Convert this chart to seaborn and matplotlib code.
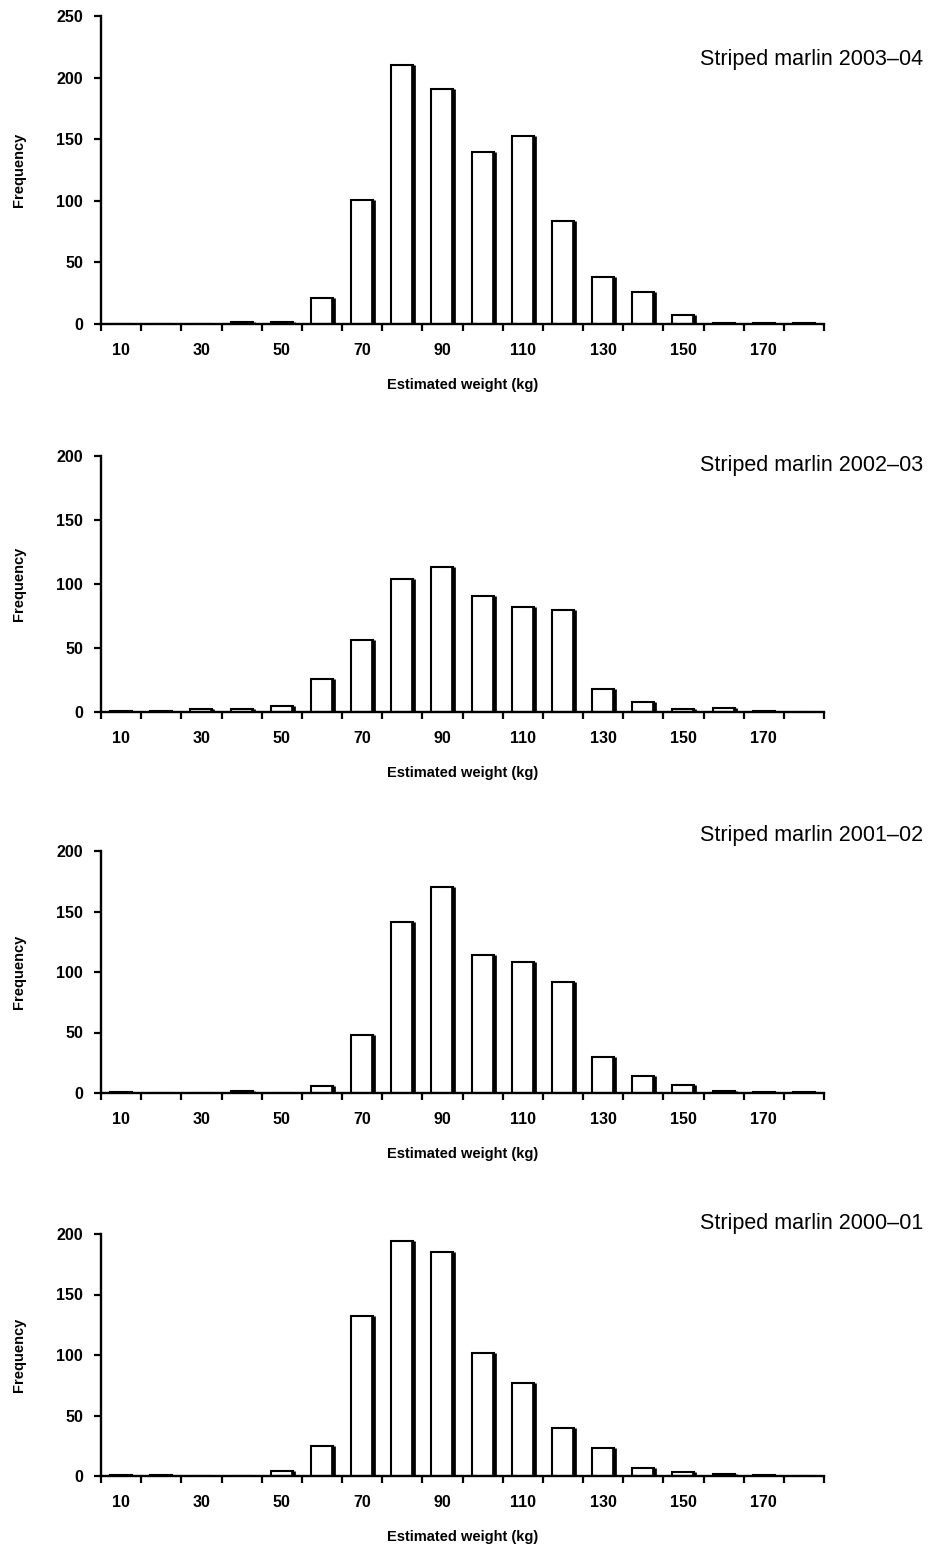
import matplotlib
matplotlib.use("Agg")
import matplotlib.pyplot as plt
import seaborn as sns

# weight classes (kg)
weights = [10, 20, 30, 40, 50, 60, 70, 80, 90, 100, 110, 120, 130, 140, 150, 160, 170, 180]
weight_labels = [str(w) for w in weights]

# frequency per season
freq_2003_04 = [0, 0, 0, 2, 2, 21, 101, 210, 191, 140, 153, 84, 38, 26, 7, 1, 0.5, 1]
freq_2002_03 = [0.5, 1, 2, 2, 5, 26, 56, 104, 113, 91, 82, 80, 18, 8, 2, 3, 1, 0]
freq_2001_02 = [0.5, 0, 0, 2, 0, 6, 48, 141, 170, 114, 108, 92, 30, 14, 7, 2, 1, 1]
freq_2000_01 = [1, 0.5, 0, 0, 4, 25, 132, 194, 185, 102, 77, 40, 23, 7, 3, 2, 1, 0]

seasons = ["2003\u201304", "2002\u201303", "2001\u201302", "2000\u201301"]
series = [freq_2003_04, freq_2002_03, freq_2001_02, freq_2000_01]
y_max = [250, 200, 200, 200]

# panel placement in pixels: (top, bottom) of the plotting area, title y
panel_px = [(16, 324, 60), (456, 712, 465), (851, 1093, 836), (1234, 1476, 1223)]

sns.set_style("ticks")
plt.rcParams["font.family"] = ["Liberation Sans", "DejaVu Sans"]
plt.rcParams["text.color"] = "black"
plt.rcParams["axes.labelcolor"] = "black"
plt.rcParams["xtick.color"] = "black"
plt.rcParams["ytick.color"] = "black"

W, H = 930, 1558
fig = plt.figure(figsize=(W / 100, H / 100), dpi=100)

for season, vals, ymax, (top, bot, ty) in zip(seasons, series, y_max, panel_px):
    ax = fig.add_axes([101 / W, 1 - bot / H, 723 / W, (bot - top) / H])
    sns.barplot(x=weight_labels, y=vals, color="white", edgecolor="black",
                linewidth=1.5, width=0.55, saturation=1, ax=ax)
    # heavy right-hand edge on every bar, like the printed original
    for p in ax.patches:
        xr = p.get_x() + p.get_width()
        ax.plot([xr, xr], [0, p.get_height()], color="black", lw=3.4,
                solid_capstyle="butt", zorder=3)

    ax.set_xlim(-0.5, len(weights) - 0.5)
    ax.set_ylim(0, ymax)
    ax.set_yticks(range(0, ymax + 1, 50))

    # tick marks at class boundaries, labels on every other class
    ax.set_xticks([i - 0.5 for i in range(len(weights) + 1)])
    ax.set_xticklabels([])
    ax.set_xticks(range(0, len(weights) - 1, 2), minor=True)
    ax.set_xticklabels(weight_labels[:-1:2], minor=True)
    ax.tick_params(axis="x", which="minor", length=0, pad=14)
    ax.tick_params(axis="x", which="major", length=5, width=1.6, direction="out")
    ax.tick_params(axis="y", length=5, width=1.6, direction="out", pad=8)
    for lab in ax.get_xticklabels(minor=True) + ax.get_yticklabels():
        lab.set_fontsize(11.5)
        lab.set_fontweight("bold")

    for side in ["top", "right"]:
        ax.spines[side].set_visible(False)
    for side in ["left", "bottom"]:
        ax.spines[side].set_linewidth(1.7)
        ax.spines[side].set_color("black")

    ax.set_xlabel("Estimated weight (kg)", fontsize=10.5, fontweight="bold", labelpad=14)
    ax.set_ylabel("Frequency", fontsize=10.5, fontweight="bold", labelpad=22)

    fig.text(923 / W, 1 - ty / H, "Striped marlin " + season, ha="right",
             va="center", fontsize=15.5)

fig.savefig("out.png", dpi=100, facecolor="white")
